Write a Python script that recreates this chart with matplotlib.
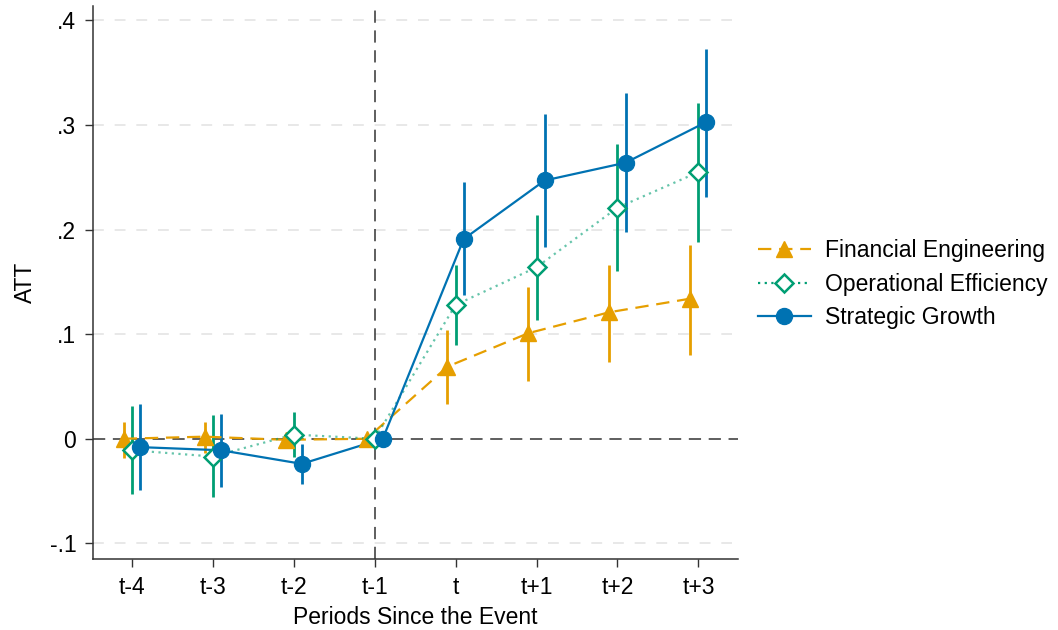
import numpy as np
import matplotlib.pyplot as plt

plt.rcParams['font.family'] = ['Liberation Sans', 'DejaVu Sans']

# event-time labels
periods = ['t-4', 't-3', 't-2', 't-1', 't', 't+1', 't+2', 't+3']

# Financial Engineering: point estimate and CI bounds
fe_att = [0.000, 0.002, -0.001, 0.000, 0.069, 0.101, 0.121, 0.134]
fe_lo = [-0.018, -0.014, -0.006, 0.000, 0.033, 0.055, 0.073, 0.080]
fe_hi = [0.016, 0.016, 0.004, 0.000, 0.104, 0.145, 0.166, 0.185]

# Operational Efficiency
oe_att = [-0.011, -0.017, 0.004, 0.000, 0.128, 0.164, 0.221, 0.255]
oe_lo = [-0.053, -0.056, -0.017, 0.000, 0.090, 0.114, 0.160, 0.188]
oe_hi = [0.031, 0.023, 0.026, 0.000, 0.166, 0.214, 0.282, 0.321]

# Strategic Growth
sg_att = [-0.008, -0.011, -0.024, 0.000, 0.191, 0.247, 0.264, 0.303]
sg_lo = [-0.049, -0.046, -0.043, 0.000, 0.137, 0.183, 0.198, 0.231]
sg_hi = [0.033, 0.024, -0.005, 0.000, 0.246, 0.311, 0.331, 0.373]

orange = '#E69F00'
green = '#009E73'
blue = '#0072B2'

fig = plt.figure(figsize=(10.58, 6.3), dpi=100)
ax = fig.add_axes([0.0879, 0.1127, 0.6097, 0.878])

x = np.arange(len(periods))

# reference lines and grid
for yv in [-0.1, 0.1, 0.2, 0.3, 0.4]:
    ax.axhline(yv, color='#e6e6e6', lw=1.3, dashes=(6, 6), zorder=0,
               xmin=0, xmax=0.99)
ax.axhline(0, color='#333333', lw=1.1, dashes=(8, 5), zorder=1)
ax.axvline(3, color='#333333', lw=1.1, dashes=(8, 5), zorder=1)

series = [
    ('Financial Engineering', fe_att, fe_lo, fe_hi, -0.1, orange, (0, (6, 3.5)), '^', 'full', 1.0),
    ('Operational Efficiency', oe_att, oe_lo, oe_hi, 0.0, green, (0, (1, 2)), 'D', 'none', 0.6),
    ('Strategic Growth', sg_att, sg_lo, sg_hi, 0.1, blue, '-', 'o', 'full', 1.0),
]

handles = []
for name, att, lo, hi, off, col, ls, mk, fill, lalpha in series:
    xs = x + off
    att = np.array(att)
    lo = np.array(lo)
    hi = np.array(hi)
    ax.vlines(xs, lo, hi, color=col, lw=2.0, zorder=2)
    ax.plot(xs, att, color=col, ls=ls, lw=1.6, alpha=lalpha, zorder=3)
    if fill == 'none':
        ax.plot(xs, att, ls='none', marker=mk, ms=9.5, mfc='white',
                mec=col, mew=1.8, zorder=4)
    else:
        ax.plot(xs, att, ls='none', marker=mk, ms=11.5, color=col, zorder=4)
    h, = ax.plot([], [], color=col, ls=ls, lw=1.6, marker=mk,
                 ms=(9.5 if fill == 'none' else 11.5),
                 mfc=('white' if fill == 'none' else col), mec=col,
                 mew=(1.8 if fill == 'none' else 1.0))
    handles.append((h, name))

ax.set_xlim(-0.48, 7.49)
ax.set_ylim(-0.115, 0.414)
ax.set_xticks(x)
ax.set_xticklabels(periods)
ax.set_yticks([-0.1, 0, 0.1, 0.2, 0.3, 0.4])
ax.set_yticklabels(['-.1', '0', '.1', '.2', '.3', '.4'])
ax.tick_params(axis='both', labelsize=16.5, length=6, width=1, color='#333333', pad=6)
for s in ['top', 'right']:
    ax.spines[s].set_visible(False)
for s in ['left', 'bottom']:
    ax.spines[s].set_color('#333333')
    ax.spines[s].set_linewidth(1.1)

ax.set_xlabel('Periods Since the Event', fontsize=16.5, labelpad=5)
ax.set_ylabel('ATT', fontsize=16.5, labelpad=9)

fig.legend([h for h, _ in handles], [n for _, n in handles],
           loc='center left', bbox_to_anchor=(0.697, 0.549), frameon=False,
           fontsize=16.5, handlelength=2.3, labelspacing=0.45, handletextpad=0.6)

fig.savefig('out.png', dpi=100)
